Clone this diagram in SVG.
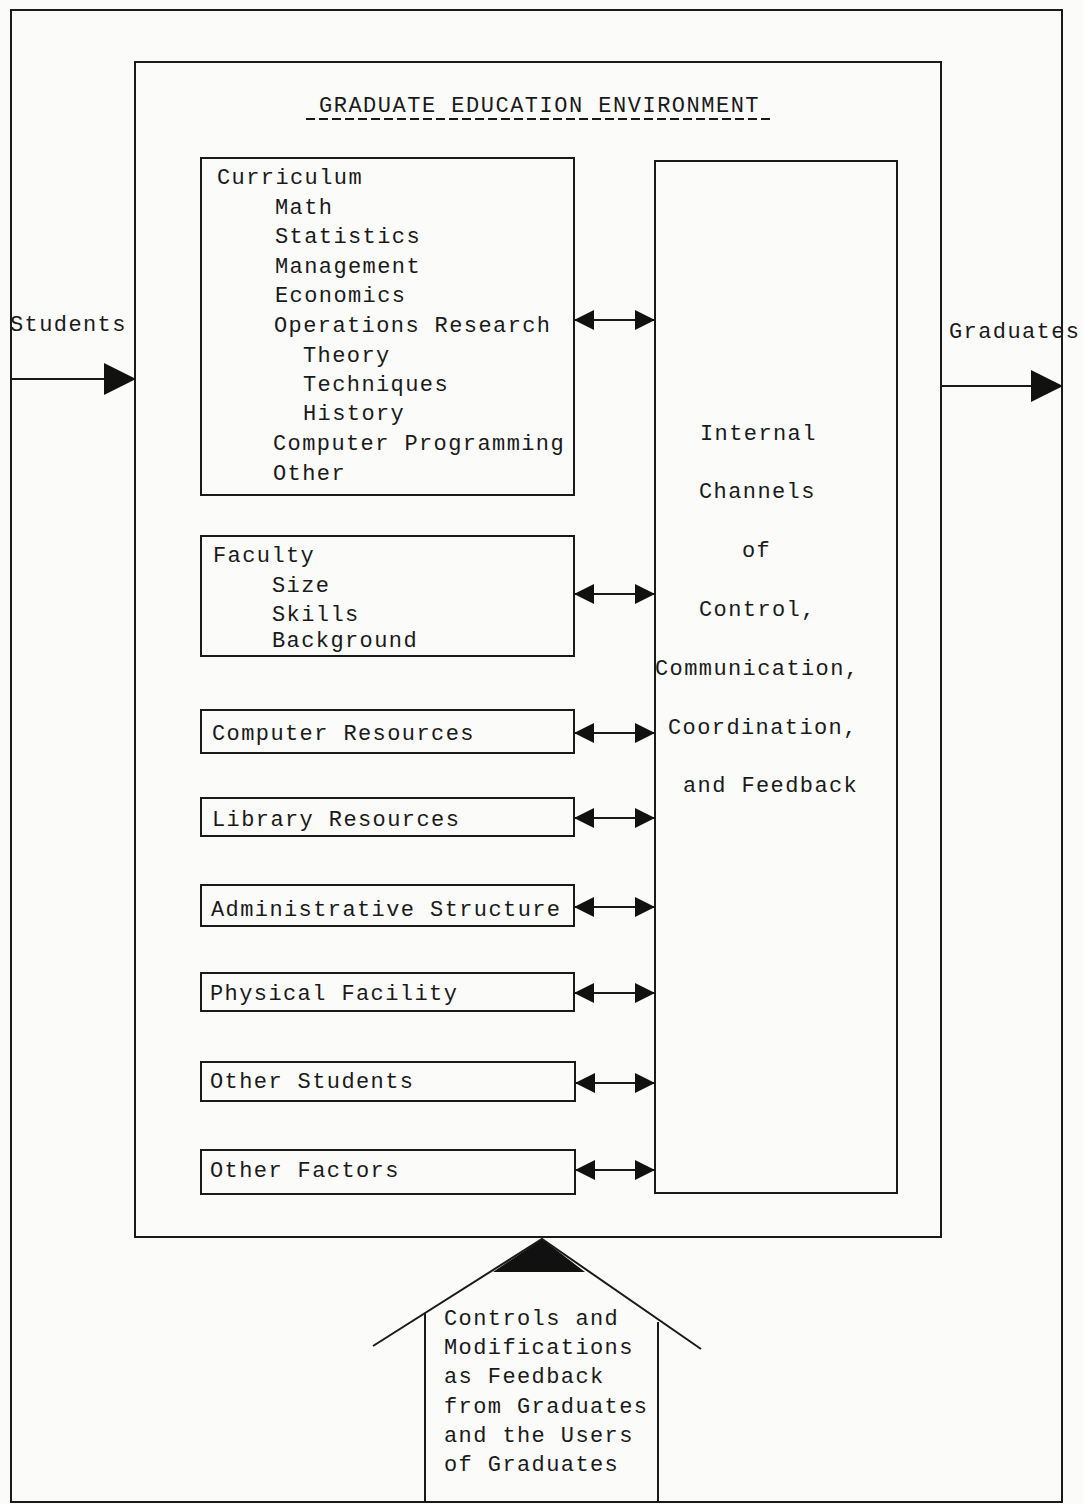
<svg xmlns="http://www.w3.org/2000/svg" width="1083" height="1504" viewBox="0 0 1083 1504">
<style>
.ln{fill:none;stroke:#1a1a1a;stroke-width:2}
.bx{fill:none;stroke:#1a1a1a;stroke-width:2}
.t{font-family:"Liberation Mono","DejaVu Sans Mono",monospace;font-size:22px;letter-spacing:1.4px;fill:#1a1a1a}
.ti{font-family:"Liberation Mono","DejaVu Sans Mono",monospace;font-size:22px;letter-spacing:1.5px;fill:#1a1a1a}
</style>
<defs>
<marker id="ah" viewBox="0 0 20 20" refX="19" refY="10" markerWidth="20" markerHeight="20" markerUnits="userSpaceOnUse" orient="auto-start-reverse">
<path d="M0,0 L20,10 L0,20 Z" fill="#111"/>
</marker>
<marker id="big" viewBox="0 0 32 32" refX="31" refY="16" markerWidth="32" markerHeight="32" markerUnits="userSpaceOnUse" orient="auto">
<path d="M0,0 L32,16 L0,32 Z" fill="#111"/>
</marker>
</defs>
<rect width="1083" height="1504" fill="#fbfbfa"/>
<g id="frame">
<rect class="bx" x="11" y="10" width="1051" height="1492"/>
</g>
<g id="environment">
<rect class="bx" x="135" y="62" width="806" height="1175"/>
<text class="ti" x="319" y="112">GRADUATE EDUCATION ENVIRONMENT</text>
<line x1="306" y1="119" x2="772" y2="119" stroke="#1a1a1a" stroke-width="2" stroke-dasharray="9,4"/>
</g>
<g id="curriculum">
<rect class="bx" x="201" y="158" width="373" height="337"/>
<text class="t" x="217" y="184">Curriculum</text>
<text class="t" x="275" y="214">Math</text>
<text class="t" x="275" y="243">Statistics</text>
<text class="t" x="275" y="273">Management</text>
<text class="t" x="275" y="302">Economics</text>
<text class="t" x="274" y="332">Operations Research</text>
<text class="t" x="303" y="362">Theory</text>
<text class="t" x="303" y="391">Techniques</text>
<text class="t" x="303" y="420">History</text>
<text class="t" x="273" y="450">Computer Programming</text>
<text class="t" x="273" y="480">Other</text>
</g>
<g id="faculty">
<rect class="bx" x="201" y="536" width="373" height="120"/>
<text class="t" x="213" y="562">Faculty</text>
<text class="t" x="272" y="592">Size</text>
<text class="t" x="272" y="621">Skills</text>
<text class="t" x="272" y="647">Background</text>
</g>
<g id="computer">
<rect class="bx" x="201" y="710" width="373" height="43"/>
<text class="t" x="212" y="740">Computer Resources</text>
</g>
<g id="library">
<rect class="bx" x="201" y="798" width="373" height="38"/>
<text class="t" x="212" y="826">Library Resources</text>
</g>
<g id="admin">
<rect class="bx" x="201" y="885" width="373" height="41"/>
<text class="t" x="211" y="916">Administrative Structure</text>
</g>
<g id="physical">
<rect class="bx" x="201" y="973" width="373" height="38"/>
<text class="t" x="210" y="1000">Physical Facility</text>
</g>
<g id="otherstudents">
<rect class="bx" x="201" y="1062" width="374" height="39"/>
<text class="t" x="210" y="1088">Other Students</text>
</g>
<g id="otherfactors">
<rect class="bx" x="201" y="1150" width="374" height="44"/>
<text class="t" x="210" y="1177">Other Factors</text>
</g>
<g id="channels">
<rect class="bx" x="655" y="161" width="242" height="1032"/>
<text class="t" x="700" y="440">Internal</text>
<text class="t" x="699" y="498">Channels</text>
<text class="t" x="742" y="557">of</text>
<text class="t" x="699" y="616">Control,</text>
<text class="t" x="655" y="675">Communication,</text>
<text class="t" x="668" y="734">Coordination,</text>
<text class="t" x="683" y="792">and Feedback</text>
</g>
<g id="students">
<text class="t" x="10" y="331">Students</text>
</g>
<g id="graduates">
<text class="t" x="949" y="338">Graduates</text>
</g>
<g id="feedback">
<path d="M542,1239 L493,1272 L585,1272 Z" fill="#111"/>
<polyline class="ln" points="373,1346 542,1239 701,1349"/>
<line class="ln" x1="425" y1="1313" x2="425" y2="1502"/>
<line class="ln" x1="658" y1="1322" x2="658" y2="1502"/>
<text class="t" x="444" y="1325">Controls and</text>
<text class="t" x="444" y="1354">Modifications</text>
<text class="t" x="444" y="1383">as Feedback</text>
<text class="t" x="444" y="1413">from Graduates</text>
<text class="t" x="444" y="1442">and the Users</text>
<text class="t" x="444" y="1471">of Graduates</text>
</g>
<g id="connectors">
<line class="ln" x1="11" y1="379" x2="135" y2="379" marker-end="url(#big)"/>
<line class="ln" x1="941" y1="386" x2="1062" y2="386" marker-end="url(#big)"/>
<line class="ln" x1="575" y1="320" x2="654" y2="320" marker-start="url(#ah)" marker-end="url(#ah)"/>
<line class="ln" x1="575" y1="594" x2="654" y2="594" marker-start="url(#ah)" marker-end="url(#ah)"/>
<line class="ln" x1="575" y1="733" x2="654" y2="733" marker-start="url(#ah)" marker-end="url(#ah)"/>
<line class="ln" x1="575" y1="818" x2="654" y2="818" marker-start="url(#ah)" marker-end="url(#ah)"/>
<line class="ln" x1="575" y1="907" x2="654" y2="907" marker-start="url(#ah)" marker-end="url(#ah)"/>
<line class="ln" x1="575" y1="993" x2="654" y2="993" marker-start="url(#ah)" marker-end="url(#ah)"/>
<line class="ln" x1="576" y1="1083" x2="654" y2="1083" marker-start="url(#ah)" marker-end="url(#ah)"/>
<line class="ln" x1="576" y1="1170" x2="654" y2="1170" marker-start="url(#ah)" marker-end="url(#ah)"/>
</g>
</svg>
